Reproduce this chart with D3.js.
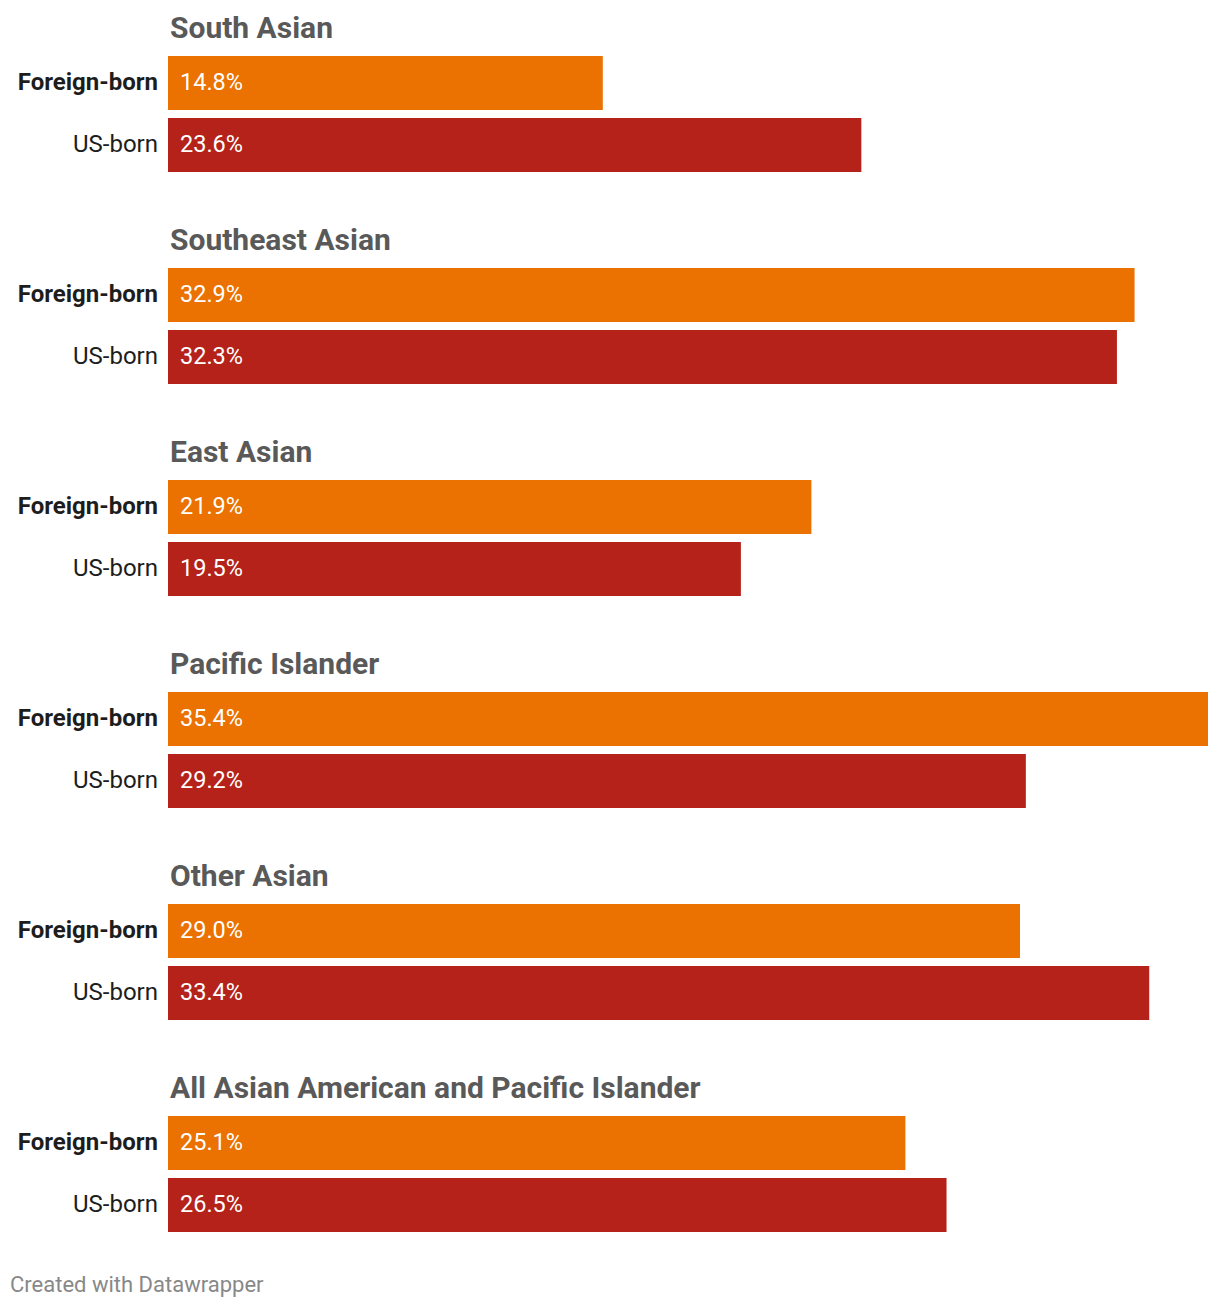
<!DOCTYPE html>
<html><head><meta charset="utf-8">
<script src="https://cdn.jsdelivr.net/npm/d3@7"></script>
<style>
html,body{margin:0;padding:0;background:#fff;}
svg text{font-family:Roboto, "Noto Sans", sans-serif;}
</style></head>
<body>
<svg id="chart" width="1220" height="1308"></svg>
<script>
const groups = ["South Asian","Southeast Asian","East Asian","Pacific Islander","Other Asian","All Asian American and Pacific Islander"];
const series = ["Foreign-born","US-born"];
const foreignBorn = [14.8, 32.9, 21.9, 35.4, 29.0, 25.1];
const usBorn = [23.6, 32.3, 19.5, 29.2, 33.4, 26.5];
const colors = ["#eb7100", "#b5221a"];

const svg = d3.select("#chart");
const x = d3.scaleLinear().domain([0, d3.max(foreignBorn.concat(usBorn))]).range([168, 1208]);
const gy = d3.scaleBand().domain(groups).range([0, 212*groups.length]).padding(0);
const iy = d3.scaleBand().domain(series).range([56, 172]).paddingInner(8/62).paddingOuter(0);

groups.forEach((g, i) => {
  const gg = svg.append("g").attr("transform", `translate(0,${gy(g)})`);
  gg.append("text").attr("x", 170).attr("y", 38)
    .attr("font-size", 30).attr("font-weight", 700).attr("fill", "#595959").text(g);
  const vals = [foreignBorn[i], usBorn[i]];
  series.forEach((s, j) => {
    const y0 = iy(s), h = iy.bandwidth();
    gg.append("text").attr("x", 158).attr("y", y0 + h/2 - 1).attr("dy", "0.35em")
      .attr("text-anchor", "end").attr("font-size", 24).attr("font-weight", j === 0 ? 700 : 400)
      .attr("fill", "#1d1d1d").text(s);
    gg.append("rect").attr("x", x(0)).attr("y", y0).attr("width", x(vals[j]) - x(0)).attr("height", h).attr("fill", colors[j]);
    gg.append("text").attr("x", x(0) + 12).attr("y", y0 + h/2 - 1).attr("dy", "0.35em")
      .attr("font-size", 23.5).attr("fill", "#fff").text(d3.format(".1f")(vals[j]) + "%");
  });
});

svg.append("text").attr("x", 10).attr("y", 1292).attr("font-size", 22).attr("fill", "#888").text("Created with Datawrapper");
</script>
</body></html>
